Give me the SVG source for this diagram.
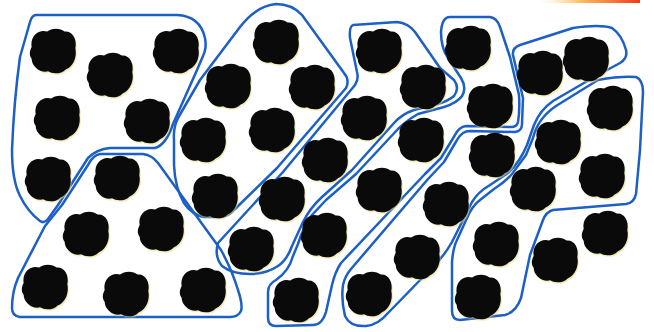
<svg xmlns="http://www.w3.org/2000/svg" xmlns:xlink="http://www.w3.org/1999/xlink" width="654" height="332" viewBox="0 0 654 332">
<style>
.ol{fill:none;stroke:#1c5fc6;stroke-width:2.5;stroke-linejoin:round;stroke-linecap:round}
</style>
<defs>
<linearGradient id="og" x1="0" x2="1" y1="0" y2="0">
<stop offset="0" stop-color="#ffe6a8" stop-opacity="0"/>
<stop offset="0.4" stop-color="#ffc060"/>
<stop offset="1" stop-color="#ee3a18"/>
</linearGradient>
<path id="blob" d="M-22,-4 C-24,-16 -14,-23 -6,-20 C-2,-24 8,-24 12,-20 C20,-21 25,-12 23,-3 C25,6 21,16 13,19 C9,24 -1,24 -5,21 C-13,23 -22,16 -22,8 C-25,4 -24,0 -22,-4 Z" transform="scale(0.97)"/>
<g id="blobs">
<use href="#blob" x="53" y="51"/>
<use href="#blob" x="110" y="75"/>
<use href="#blob" x="176" y="51"/>
<use href="#blob" x="57" y="118"/>
<use href="#blob" x="147" y="121"/>
<use href="#blob" x="48" y="179"/>
<use href="#blob" x="117" y="178"/>
<use href="#blob" x="86" y="234"/>
<use href="#blob" x="161" y="229"/>
<use href="#blob" x="45" y="287"/>
<use href="#blob" x="126" y="294"/>
<use href="#blob" x="203" y="290"/>
<use href="#blob" x="203" y="140"/>
<use href="#blob" x="215" y="196"/>
<use href="#blob" x="276" y="42"/>
<use href="#blob" x="228" y="86"/>
<use href="#blob" x="312" y="87"/>
<use href="#blob" x="272" y="130"/>
<use href="#blob" x="325" y="160"/>
<use href="#blob" x="282" y="199"/>
<use href="#blob" x="251" y="249"/>
<use href="#blob" x="324" y="235"/>
<use href="#blob" x="296" y="300"/>
<use href="#blob" x="379" y="51"/>
<use href="#blob" x="423" y="87"/>
<use href="#blob" x="364" y="118"/>
<use href="#blob" x="421" y="140"/>
<use href="#blob" x="379" y="190"/>
<use href="#blob" x="417" y="257"/>
<use href="#blob" x="369" y="294"/>
<use href="#blob" x="446" y="204"/>
<use href="#blob" x="468" y="48"/>
<use href="#blob" x="490" y="106"/>
<use href="#blob" x="540" y="73"/>
<use href="#blob" x="586" y="59"/>
<use href="#blob" x="610" y="108"/>
<use href="#blob" x="558" y="142"/>
<use href="#blob" x="492" y="155"/>
<use href="#blob" x="533" y="189"/>
<use href="#blob" x="602" y="176"/>
<use href="#blob" x="496" y="244"/>
<use href="#blob" x="555" y="260"/>
<use href="#blob" x="605" y="233"/>
<use href="#blob" x="478" y="297"/>
</g>
</defs>
<rect x="0" y="0" width="654" height="332" fill="#ffffff"/>
<rect x="540" y="0" width="100" height="3" fill="url(#og)"/>
<g id="outlines">
<path id="group-A" class="ol" d="M36,15 L177,15 Q200,16 205,38 Q207,48 203,56 L197,70 L173,124 Q166,145 155,148 L110,148 Q97,149 88,158 L58,205 L48,219 Q44,224 40,221 Q28,212 20,196 Q12,180 12,150 Q14,100 20,57 L30,22 Q32,15 36,15 Z"/>
<path id="group-B" class="ol" d="M100,154 L143,154 Q152,155 158,163 L221,250 Q232,270 238,290 Q243,305 241,311 Q238,317 230,317 L20,317 Q12,316 12,308 Q12,292 18,278 L45,226 L62,205 L88,165 Q93,155 100,154 Z"/>
<path id="group-C" class="ol" d="M174,140 Q173,128 178,118 L200,80 L240,27 Q256,6 276,4 Q292,4 302,15 L344,73 Q350,80 346,88 L277,168 L234,210 Q228,217 220,217 L204,217 Q192,215 184,203 Q175,188 174,165 Z"/>
<path id="group-D" class="ol" d="M353,25 L397,22 Q408,23 415,32 L440,68 L454,80 Q460,88 454,96 Q448,101 438,104 L414,110 Q402,114 394,123 L352,170 L322,197 Q310,208 303,222 L292,246 Q287,260 278,266 Q266,274 250,274 Q232,274 222,266 Q214,256 218,243 L283,172 L355,85 Q359,79 357,72 L350,38 Q349,27 353,25 Z"/>
<path id="group-E" class="ol" d="M450,17 L490,17 Q497,18 500,27 L510,57 L519,95 Q520,110 518,122 Q517,127 511,127 L466,126 Q459,127 455,135 L441,158 L425,174 L341,263 Q335,272 332,285 L326,312 Q322,325 313,325 L276,326 Q268,326 268,318 L268,292 Q268,284 276,280 Q289,271 293,256 L298,244 Q304,225 312,215 L326,200 L356,174 L398,129 Q406,121 418,114 L444,107 Q457,103 462,96 Q467,88 461,78 L448,58 Q441,48 441,32 Q442,17 450,17 Z"/>
<path id="group-H" class="ol" d="M513,55 Q512,48 520,45 L573,28 Q600,24 612,28 Q622,35 626,50 Q628,58 620,63 L596,76 L553,101 Q540,110 534,125 L527,145 Q520,162 508,173 L490,185 Q478,192 472,202 L462,222 L452,242 Q443,258 428,272 L388,313 Q378,325 366,326 Q350,327 345,316 Q341,300 343,285 Q345,276 351,269 L428,179 L444,162 L457,140 Q462,131 470,131 L515,132 Q522,131 522,124 L523,98 Z"/>
<path id="group-F" class="ol" d="M598,80 Q620,76 636,77 Q643,80 643,92 L640,150 L636,194 Q634,203 626,204 L553,210 Q546,212 543,220 L530,255 L521,298 Q516,312 505,315 L460,320 Q452,320 452,311 L452,262 Q453,248 457,240 L467,218 Q472,206 480,200 L494,189 Q505,182 512,174 L526,155 L533,138 Q538,118 556,106 L585,88 Z"/>
</g>
<use href="#blobs" transform="translate(1,1.4)" fill="#e2d570" opacity="0.55"/>
<use href="#blobs" fill="#0a0a0a"/>
</svg>
